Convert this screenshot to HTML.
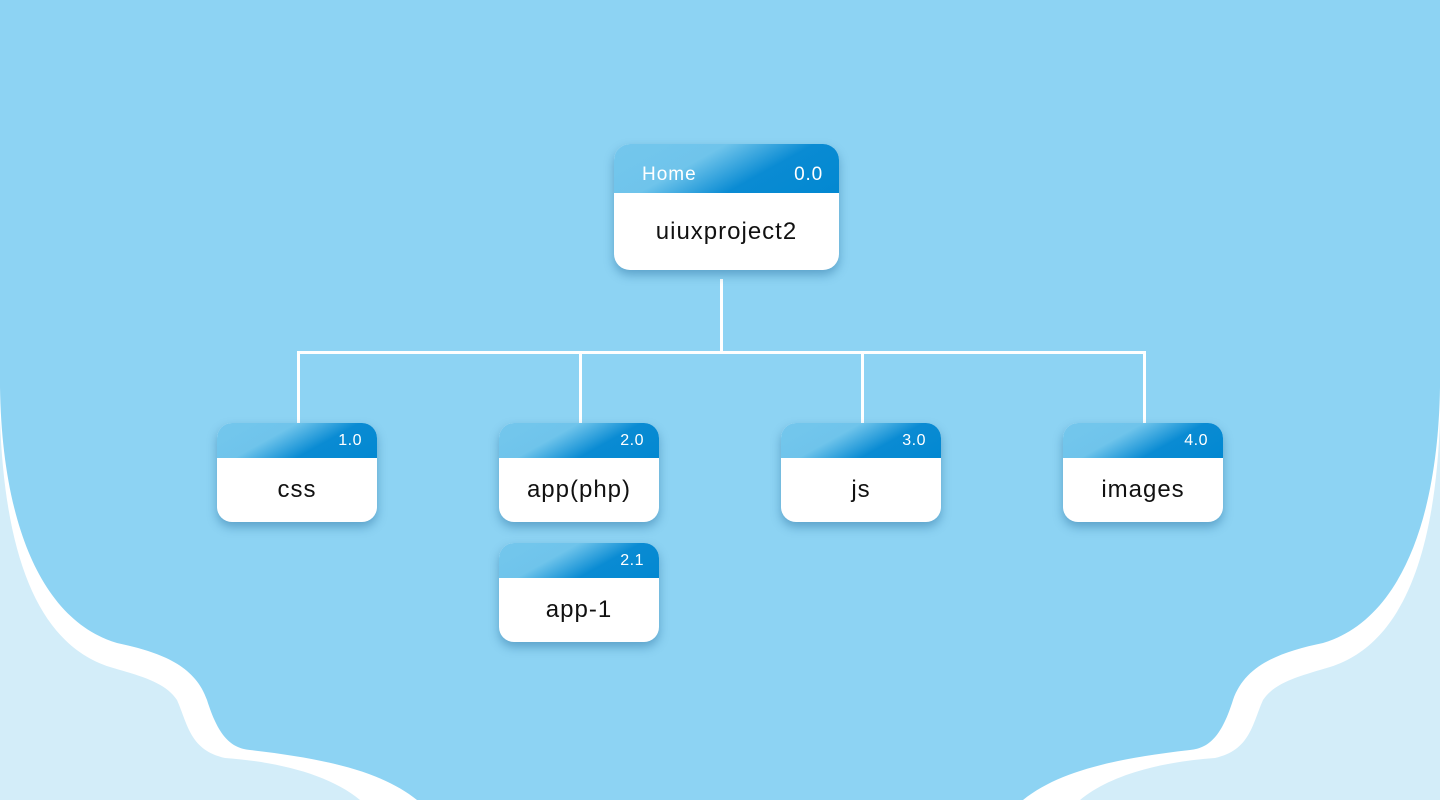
<!DOCTYPE html>
<html>
<head>
<meta charset="utf-8">
<style>
  html, body { margin:0; padding:0; }
  body { width:1440px; height:800px; overflow:hidden; position:relative; background:#D3EDF9; font-family:"Liberation Sans", Arial, sans-serif; }
  svg.bg { position:absolute; left:0; top:0; }
  .node { position:absolute; background:#fff; border-radius:15px; overflow:hidden;
          box-shadow: 0 5px 10px rgba(20,90,140,0.4); }
  .hdr { position:absolute; left:0; top:0; right:0;
         background: linear-gradient(151deg, #74c7ed 0%, #6fc4eb 36%, #0a8bd3 64%, #0288d1 100%); }
  .num { position:absolute; right:15px; color:#fff; font-size:16px; line-height:16px; letter-spacing:0.5px; }
  .body { position:absolute; left:0; right:0; bottom:0; display:flex; align-items:center; justify-content:center;
          color:#111; font-size:24px; letter-spacing:1px; }
</style>
</head>
<body>
<svg class="bg" width="1440" height="800" viewBox="0 0 1440 800">
  <path fill="#ffffff" d="M0,0 H1440 V420
     C1435,560 1400,645 1330,667
     C1300,676 1275,682 1263,700
     C1252,725 1250,750 1215,758
     C1160,762 1110,775 1080,800
     H360
     C330,775 280,762 225,758
     C190,750 188,725 177,700
     C165,682 140,676 110,667
     C40,645 5,560 0,420 Z"/>
  <path fill="#8DD3F3" d="M0,0 H1440 V387
     C1438,520 1400,620 1323,643
     C1280,652 1245,665 1233,700
     C1222,735 1210,748 1190,750
     C1120,758 1060,770 1023,800
     H417
     C380,770 320,758 250,750
     C230,748 218,735 207,700
     C195,665 160,652 117,643
     C40,620 2,520 0,387 Z"/>
  <g stroke="#ffffff" stroke-width="3" fill="none">
    <line x1="721.5" y1="279" x2="721.5" y2="352.5"/>
    <line x1="297" y1="352.5" x2="1146" y2="352.5"/>
    <line x1="298.5" y1="352.5" x2="298.5" y2="425"/>
    <line x1="580.5" y1="352.5" x2="580.5" y2="425"/>
    <line x1="862.5" y1="352.5" x2="862.5" y2="425"/>
    <line x1="1144.5" y1="352.5" x2="1144.5" y2="425"/>
  </g>
</svg>

<div class="node" style="left:614px; top:144px; width:225px; height:126px; border-radius:16px;">
  <div class="hdr" style="height:49px;"></div>
  <div style="position:absolute; left:28px; top:21px; color:#fff; font-size:19px; line-height:19px; letter-spacing:1px;">Home</div>
  <div style="position:absolute; right:16px; top:21px; color:#fff; font-size:19px; line-height:19px; letter-spacing:0.8px;">0.0</div>
  <div class="body" style="top:49px;">uiuxproject2</div>
</div>

<div class="node" style="left:217px; top:423px; width:160px; height:99px;">
  <div class="hdr" style="height:35px;"></div>
  <div class="num" style="top:10px;">1.0</div>
  <div class="body" style="top:35px;">css</div>
</div>

<div class="node" style="left:499px; top:423px; width:160px; height:99px;">
  <div class="hdr" style="height:35px;"></div>
  <div class="num" style="top:10px;">2.0</div>
  <div class="body" style="top:35px;">app(php)</div>
</div>

<div class="node" style="left:781px; top:423px; width:160px; height:99px;">
  <div class="hdr" style="height:35px;"></div>
  <div class="num" style="top:10px;">3.0</div>
  <div class="body" style="top:35px;">js</div>
</div>

<div class="node" style="left:1063px; top:423px; width:160px; height:99px;">
  <div class="hdr" style="height:35px;"></div>
  <div class="num" style="top:10px;">4.0</div>
  <div class="body" style="top:35px;">images</div>
</div>

<div class="node" style="left:499px; top:543px; width:160px; height:99px;">
  <div class="hdr" style="height:35px;"></div>
  <div class="num" style="top:10px;">2.1</div>
  <div class="body" style="top:35px;">app-1</div>
</div>
</body>
</html>
